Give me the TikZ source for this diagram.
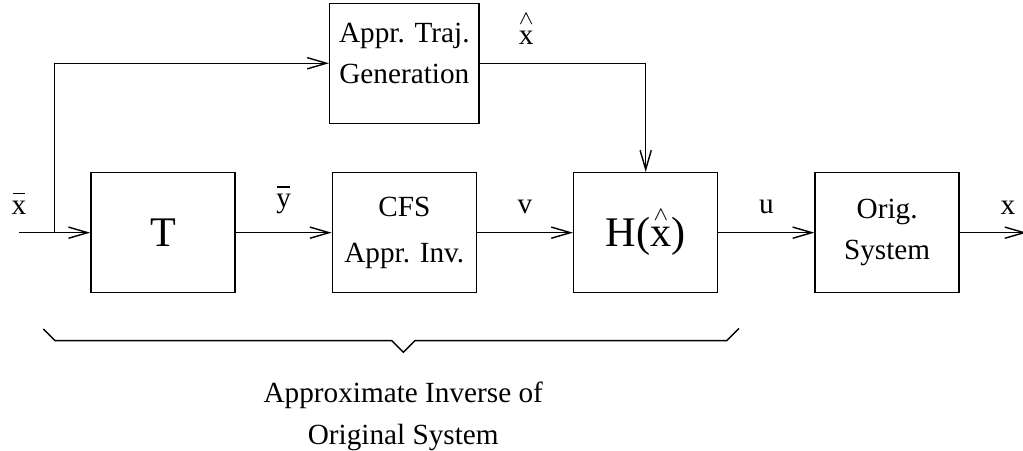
\documentclass[tikz,border=0pt]{standalone}
\usepackage{fontspec}
\setmainfont{Liberation Serif}
\usetikzlibrary{arrows.meta, calc, positioning}

% a mark stacked over a letter
\newcommand{\markover}[2]{\leavevmode\vbox{\offinterlineskip\halign{\hfil##\hfil\cr#1\cr\noalign{\kern2.4pt}#2\cr}}}
\newcommand{\barx}{\markover{\rule{0.42em}{0.5pt}}{x}}
\newcommand{\bary}{\markover{\rule{0.42em}{0.5pt}}{y}}
\newcommand{\hatx}{\markover{\scriptsize$\wedge$}{x}}

\begin{document}
\begin{tikzpicture}[
        >={Straight Barb[length=2.4mm, width=1.4mm]},
        line width=0.5pt,
        node distance=1.2cm,
        block/.style={draw, rectangle, minimum width=1.8cm, minimum height=1.5cm, align=center, font=\fontsize{10.4}{14.5}\selectfont},
        bigblock/.style={block, font=\fontsize{15}{18}\selectfont},
        sig/.style={above=3pt, font=\fontsize{10.4}{12}\selectfont}
    ]
    \useasboundingbox (0, 0) rectangle (12.7875, 5.6375);

    \node [bigblock] (T) at (2.036, 2.729) {T};
    \node [block, right=of T] (cfs) {CFS\\[2pt]Appr. Inv.};
    \node [bigblock, right=of cfs] (H) {H(\hatx)};
    \node [block, right=of H] (orig) {Orig.\\System};
    \node [block, above=0.6cm of cfs, text depth=7pt] (traj) {Appr. Traj.\\Generation};

    % Input and output ends
    \coordinate (in) at (0.2375, 2.729);
    \coordinate (split) at (0.679, 2.729);
    \coordinate [right=0.834cm of orig] (out);

    % Signals
    \draw[->] (in) node[sig] (xbar) {\barx} -- (T);
    \draw[->] (split) |- (traj);
    \draw[->] (T) -- node[sig] (ybar) {\bary} (cfs);
    \draw[->] (cfs) -- node[sig] (v) {v} (H);
    \draw[->] (traj) -| node[sig, pos=0.14] (xhat) {\hatx} (H);
    \draw[->] (H) -- node[sig] (u) {u} (orig);
    \draw[->] (orig) -- node[sig, pos=0.72] (x) {x} (out);

    % Brace under the inverse part
    \draw (0.541, 1.525) -- (0.6875, 1.379) -- (4.896, 1.379) -- (5.041, 1.234) coordinate (tip)
        -- (5.1875, 1.379) -- (9.084, 1.379) -- (9.2375, 1.534);
    \node [below=0.24cm of tip, align=center, font=\fontsize{10.4}{15}\selectfont] (caption) {Approximate Inverse of\\Original System};
\end{tikzpicture}
\end{document}
